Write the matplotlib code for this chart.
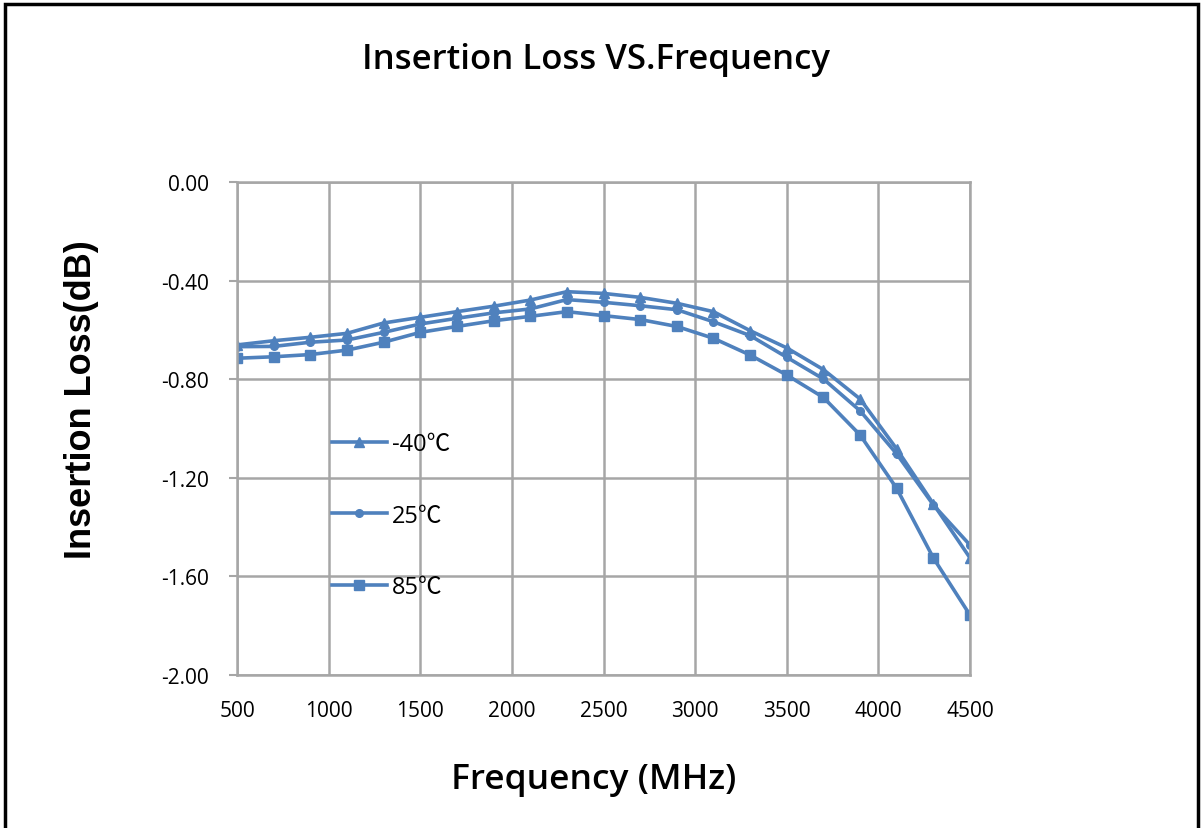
import matplotlib
matplotlib.use("Agg")
import matplotlib.pyplot as plt
from matplotlib.patches import Rectangle

freq = [500, 700, 900, 1100, 1300, 1500, 1700, 1900, 2100, 2300, 2500,
        2700, 2900, 3100, 3300, 3500, 3700, 3900, 4100, 4300, 4500]
loss_m40 = [-0.661, -0.644, -0.630, -0.614, -0.572, -0.549, -0.526, -0.504, -0.479, -0.445, -0.452,
            -0.468, -0.492, -0.526, -0.603, -0.673, -0.761, -0.880, -1.083, -1.306, -1.525]
loss_25 = [-0.668, -0.667, -0.650, -0.641, -0.610, -0.576, -0.553, -0.531, -0.515, -0.477, -0.488,
           -0.502, -0.518, -0.567, -0.623, -0.711, -0.799, -0.928, -1.103, -1.310, -1.473]
loss_85 = [-0.715, -0.709, -0.700, -0.682, -0.650, -0.610, -0.586, -0.563, -0.545, -0.526, -0.542,
           -0.558, -0.586, -0.634, -0.702, -0.783, -0.874, -1.026, -1.243, -1.525, -1.757]
labels = ["-40℃", "25℃", "85℃"]
xticks = [500, 1000, 1500, 2000, 2500, 3000, 3500, 4000, 4500]
yticks = [0.0, -0.4, -0.8, -1.2, -1.6, -2.0]

color = "#4F81BD"
fig = plt.figure(figsize=(12.04, 8.29), dpi=100)
ax = fig.add_axes([237/1204, 1-676/829, (970-237)/1204, (676-183)/829])

series = [loss_m40, loss_25, loss_85]
markers = ["^", "o", "s"]
msizes = [7.5, 5.5, 6.5]
for s, m, ms, lab in zip(series, markers, msizes, labels):
    ax.plot(freq, s, color=color, lw=2.6, marker=m, ms=ms, label=lab)

ax.set_xlim(500, 4500)
ax.set_ylim(-2.0, 0.0)
ax.set_xticks(xticks)
ax.set_yticks(yticks)
ax.set_yticklabels([f"{v:.2f}" if v != 0 else "0.00" for v in yticks])
ax.grid(True, color="#A6A6A6", lw=1.8)
for sp in ax.spines.values():
    sp.set_color("#A6A6A6")
    sp.set_linewidth(1.8)
ax.tick_params(axis="both", colors="#A6A6A6", labelcolor="black", labelsize=15,
               length=6, width=1.5, pad=14)
ax.tick_params(axis="x", length=0, pad=18)
for t in ax.get_xticklabels() + ax.get_yticklabels():
    t.set_family("Open Sans")

leg = ax.legend(loc="upper left", bbox_to_anchor=(0.10, 0.535), frameon=False,
                labelspacing=2.0, handlelength=2.35, handletextpad=0.2,
                prop={"family": ["Open Sans", "Noto Sans CJK SC"], "size": 17})

fig.text(596/1204, 1-60/829, "Insertion Loss VS.Frequency", ha="center", va="center",
         fontsize=25, family="Open Sans", fontweight="semibold")
fig.text(82/1204, 1-400/829, "Insertion Loss(dB)", rotation=90, ha="center", va="center",
         fontsize=26, family="Liberation Sans", fontweight="bold")
fig.text(594/1204, 1-780/829, "Frequency (MHz)", ha="center", va="center",
         fontsize=25.5, family="Open Sans", fontweight="semibold")

fig.patches.append(Rectangle((5/1204, -0.05), (1198-5)/1204, 1.05 - 5/829,
                             transform=fig.transFigure, fill=False, ec="black", lw=2.5))
fig.savefig("out.png", dpi=100)
